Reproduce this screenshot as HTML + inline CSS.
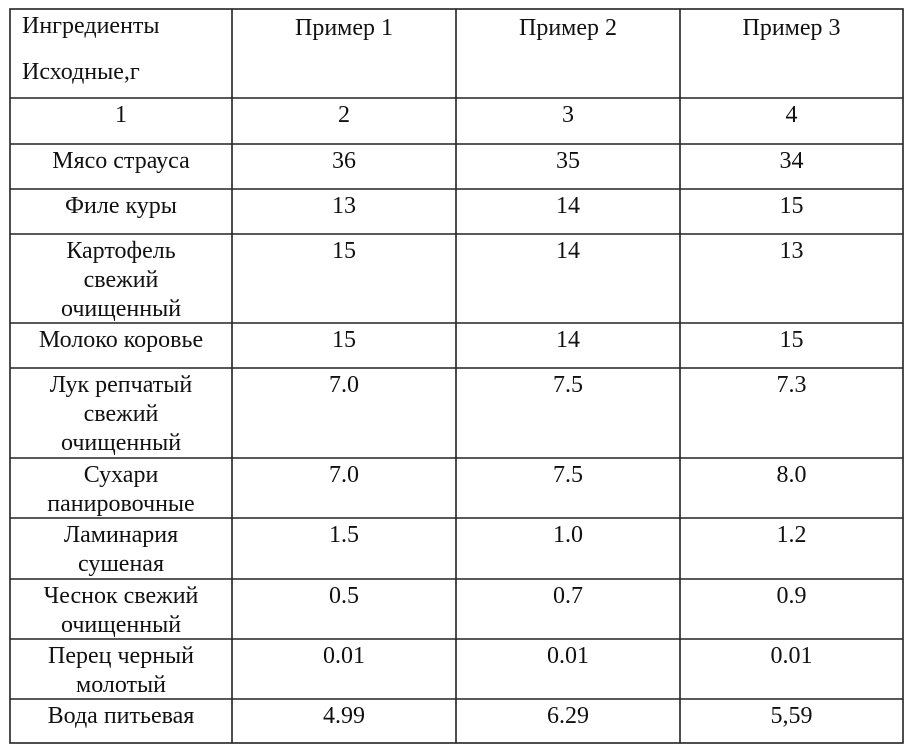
<!DOCTYPE html>
<html><head><meta charset="utf-8"><style>
html,body{margin:0;padding:0;background:#fff;width:910px;height:752px;overflow:hidden}
.c{position:absolute;font-family:"Liberation Serif","DejaVu Serif",serif;font-size:24px;color:#111;text-align:center;line-height:29px;padding-top:3px}
</style></head><body>
<svg width="910" height="752" style="position:absolute;left:0;top:0" xmlns="http://www.w3.org/2000/svg">
<g stroke="#222" stroke-width="1.6" fill="none">
<rect x="10" y="9" width="893" height="734"/>
<line x1="232" y1="9" x2="232" y2="743"/>
<line x1="456" y1="9" x2="456" y2="743"/>
<line x1="680" y1="9" x2="680" y2="743"/>
<line x1="10" y1="98" x2="903" y2="98"/>
<line x1="10" y1="144" x2="903" y2="144"/>
<line x1="10" y1="189" x2="903" y2="189"/>
<line x1="10" y1="234" x2="903" y2="234"/>
<line x1="10" y1="323" x2="903" y2="323"/>
<line x1="10" y1="368" x2="903" y2="368"/>
<line x1="10" y1="458" x2="903" y2="458"/>
<line x1="10" y1="518" x2="903" y2="518"/>
<line x1="10" y1="579" x2="903" y2="579"/>
<line x1="10" y1="639" x2="903" y2="639"/>
<line x1="10" y1="699" x2="903" y2="699"/>
</g></svg>
<div class="c" style="left:22px;top:1px;width:210px;text-align:left;line-height:46px;padding-top:2px">Ингредиенты<br>Исходные,г</div>
<div class="c" style="left:232px;top:7px;width:224px;line-height:36px">Пример 1</div>
<div class="c" style="left:456px;top:7px;width:224px;line-height:36px">Пример 2</div>
<div class="c" style="left:680px;top:7px;width:223px;line-height:36px">Пример 3</div>

<div class="c" style="left:10px;top:98px;width:222px">1</div>
<div class="c" style="left:232px;top:98px;width:224px">2</div>
<div class="c" style="left:456px;top:98px;width:224px">3</div>
<div class="c" style="left:680px;top:98px;width:223px">4</div>

<div class="c" style="left:10px;top:144px;width:222px">Мясо страуса</div>
<div class="c" style="left:232px;top:144px;width:224px">36</div>
<div class="c" style="left:456px;top:144px;width:224px">35</div>
<div class="c" style="left:680px;top:144px;width:223px">34</div>

<div class="c" style="left:10px;top:189px;width:222px">Филе куры</div>
<div class="c" style="left:232px;top:189px;width:224px">13</div>
<div class="c" style="left:456px;top:189px;width:224px">14</div>
<div class="c" style="left:680px;top:189px;width:223px">15</div>

<div class="c" style="left:10px;top:234px;width:222px">Картофель<br>свежий<br>очищенный</div>
<div class="c" style="left:232px;top:234px;width:224px">15</div>
<div class="c" style="left:456px;top:234px;width:224px">14</div>
<div class="c" style="left:680px;top:234px;width:223px">13</div>

<div class="c" style="left:10px;top:323px;width:222px">Молоко коровье</div>
<div class="c" style="left:232px;top:323px;width:224px">15</div>
<div class="c" style="left:456px;top:323px;width:224px">14</div>
<div class="c" style="left:680px;top:323px;width:223px">15</div>

<div class="c" style="left:10px;top:368px;width:222px">Лук репчатый<br>свежий<br>очищенный</div>
<div class="c" style="left:232px;top:368px;width:224px">7.0</div>
<div class="c" style="left:456px;top:368px;width:224px">7.5</div>
<div class="c" style="left:680px;top:368px;width:223px">7.3</div>

<div class="c" style="left:10px;top:458px;width:222px">Сухари<br>панировочные</div>
<div class="c" style="left:232px;top:458px;width:224px">7.0</div>
<div class="c" style="left:456px;top:458px;width:224px">7.5</div>
<div class="c" style="left:680px;top:458px;width:223px">8.0</div>

<div class="c" style="left:10px;top:518px;width:222px">Ламинария<br>сушеная</div>
<div class="c" style="left:232px;top:518px;width:224px">1.5</div>
<div class="c" style="left:456px;top:518px;width:224px">1.0</div>
<div class="c" style="left:680px;top:518px;width:223px">1.2</div>

<div class="c" style="left:10px;top:579px;width:222px">Чеснок свежий<br>очищенный</div>
<div class="c" style="left:232px;top:579px;width:224px">0.5</div>
<div class="c" style="left:456px;top:579px;width:224px">0.7</div>
<div class="c" style="left:680px;top:579px;width:223px">0.9</div>

<div class="c" style="left:10px;top:639px;width:222px">Перец черный<br>молотый</div>
<div class="c" style="left:232px;top:639px;width:224px">0.01</div>
<div class="c" style="left:456px;top:639px;width:224px">0.01</div>
<div class="c" style="left:680px;top:639px;width:223px">0.01</div>

<div class="c" style="left:10px;top:699px;width:222px">Вода питьевая</div>
<div class="c" style="left:232px;top:699px;width:224px">4.99</div>
<div class="c" style="left:456px;top:699px;width:224px">6.29</div>
<div class="c" style="left:680px;top:699px;width:223px">5,59</div>
</body></html>
